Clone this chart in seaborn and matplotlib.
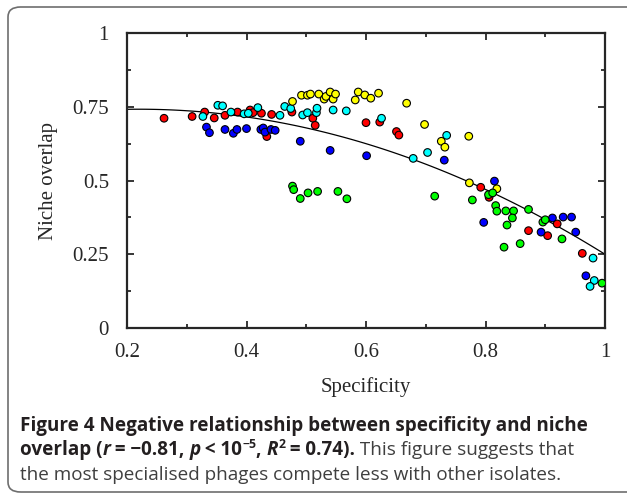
import numpy as np
import pandas as pd
import matplotlib
matplotlib.use("Agg")
import matplotlib.pyplot as plt
import seaborn as sns
from matplotlib.patches import FancyBboxPatch
from matplotlib.ticker import MultipleLocator, FuncFormatter

# Datos (especificidad, solapamiento de nicho) por grupo de color
red_x = [0.262, 0.309, 0.330, 0.346, 0.364, 0.385, 0.406, 0.411, 0.425, 0.434, 0.442, 0.476,
         0.511, 0.515, 0.600, 0.623, 0.651, 0.655, 0.792, 0.806, 0.872, 0.904, 0.920, 0.962]
red_y = [0.711, 0.717, 0.732, 0.712, 0.721, 0.732, 0.739, 0.730, 0.728, 0.649, 0.724, 0.732,
         0.711, 0.687, 0.696, 0.698, 0.666, 0.654, 0.477, 0.443, 0.330, 0.313, 0.353, 0.253]

cyan_x = [0.327, 0.352, 0.360, 0.374, 0.396, 0.403, 0.419, 0.456, 0.464, 0.474, 0.494, 0.502,
          0.517, 0.518, 0.545, 0.567, 0.626, 0.679, 0.703, 0.735, 0.980, 0.982, 0.975]
cyan_y = [0.717, 0.755, 0.753, 0.732, 0.726, 0.728, 0.747, 0.721, 0.751, 0.744, 0.722, 0.730,
          0.730, 0.745, 0.739, 0.736, 0.711, 0.575, 0.595, 0.653, 0.237, 0.161, 0.141]

blue_x = [0.333, 0.338, 0.364, 0.378, 0.384, 0.400, 0.424, 0.428, 0.431, 0.441, 0.448, 0.490,
          0.540, 0.601, 0.731, 0.815, 0.797, 0.893, 0.912, 0.930, 0.944, 0.951, 0.968]
blue_y = [0.681, 0.662, 0.673, 0.660, 0.673, 0.676, 0.673, 0.678, 0.664, 0.673, 0.670, 0.633,
          0.602, 0.584, 0.569, 0.498, 0.358, 0.325, 0.373, 0.376, 0.376, 0.325, 0.177]

yellow_x = [0.477, 0.492, 0.502, 0.507, 0.521, 0.530, 0.533, 0.540, 0.545, 0.549, 0.582,
            0.587, 0.598, 0.608, 0.621, 0.668, 0.698, 0.726, 0.732, 0.772, 0.773, 0.819]
yellow_y = [0.768, 0.789, 0.789, 0.793, 0.793, 0.776, 0.785, 0.800, 0.776, 0.793, 0.773,
            0.800, 0.790, 0.779, 0.796, 0.762, 0.690, 0.633, 0.613, 0.650, 0.492, 0.472]

green_x = [0.477, 0.479, 0.490, 0.503, 0.519, 0.553, 0.568, 0.715, 0.778, 0.805, 0.812, 0.817,
           0.819, 0.834, 0.847, 0.845, 0.836, 0.831, 0.858, 0.872, 0.896, 0.900, 0.928, 0.995]
green_y = [0.481, 0.469, 0.439, 0.458, 0.463, 0.463, 0.438, 0.447, 0.434, 0.452, 0.458, 0.415,
           0.396, 0.397, 0.397, 0.373, 0.349, 0.274, 0.286, 0.402, 0.359, 0.367, 0.302, 0.152]

# Puntos leidos sobre la curva de tendencia del original
curva_x = [0.200, 0.239, 0.439, 0.490, 0.523, 0.679, 0.757, 0.773, 0.824, 0.998]
curva_y = [0.745, 0.739, 0.698, 0.681, 0.670, 0.575, 0.509, 0.492, 0.449, 0.251]

x_ticks = [0.2, 0.4, 0.6, 0.8, 1.0]
y_ticks = [0, 0.25, 0.5, 0.75, 1.0]

grupos = {'red': (red_x, red_y), 'blue': (blue_x, blue_y), 'cyan': (cyan_x, cyan_y),
          'yellow': (yellow_x, yellow_y), 'green': (green_x, green_y)}
data = pd.concat([pd.DataFrame({'especificidad': gx, 'solapamiento': gy, 'grupo': g})
                  for g, (gx, gy) in grupos.items()], ignore_index=True)
curva = pd.DataFrame({'especificidad': curva_x, 'solapamiento': curva_y})

paleta = {'red': '#ff0000', 'blue': '#0000ff', 'cyan': '#00ffff',
          'yellow': '#ffff00', 'green': '#00ff00'}

sns.set_style("ticks")
plt.rcParams['font.family'] = ['Liberation Serif', 'DejaVu Serif']

W, H = 627, 499
fig = plt.figure(figsize=(W / 100, H / 100), dpi=100)
ax = fig.add_axes([127 / W, 1 - 328 / H, 478 / W, 295 / H])
ax.set_xlim(0.2, 1.0)
ax.set_ylim(0, 1.0)

sns.regplot(data=curva, x='especificidad', y='solapamiento', order=2, ci=None,
            scatter=False, truncate=False, ax=ax,
            line_kws={'color': 'black', 'linewidth': 0.9})

sns.scatterplot(data=data, x='especificidad', y='solapamiento', hue='grupo',
                palette=paleta, s=30, edgecolor='black', linewidth=0.8,
                legend=False, ax=ax, zorder=3)

ax.set_xlim(0.2, 1.0)
ax.set_ylim(0, 1.0)
ax.set_xticks(x_ticks)
ax.set_yticks(y_ticks)
ax.xaxis.set_minor_locator(MultipleLocator(0.1))
ax.yaxis.set_minor_locator(MultipleLocator(0.125))
fmt = FuncFormatter(lambda v, p: '%g' % v)
ax.xaxis.set_major_formatter(fmt)
ax.yaxis.set_major_formatter(fmt)
ax.tick_params(which='both', direction='in', top=True, right=True, width=1.3, labelsize=15)
ax.tick_params(axis='y', which='major', length=5, pad=13)
ax.tick_params(axis='x', which='major', length=5, pad=11)
ax.tick_params(which='minor', length=3)
for sp in ax.spines.values():
    sp.set_linewidth(1.6)

ax.set_xlabel('Specificity', fontsize=15)
ax.set_ylabel('Niche overlap', fontsize=15)
ax.xaxis.set_label_coords(0.5, -0.165)
ax.yaxis.set_label_coords(-0.145, 0.5)

# Marco redondeado de la figura
marco = FancyBboxPatch((8 / W, 7 / H), 640 / W, 485 / H,
                       boxstyle='round,pad=0,rounding_size=0.02',
                       transform=fig.transFigure, fill=False,
                       edgecolor='#6e6e6e', linewidth=1.2, clip_on=False)
fig.patches.append(marco)

# Pie de figura con texto mixto
cap_font = ['Open Sans', 'DejaVu Sans']
oscuro = '#231f20'
gris = '#3f3f3f'
tam = 13.6
renderer = fig.canvas.get_renderer()


def linea(segmentos, x0, y0):
    x = x0
    for txt, peso, estilo, esc, dy, col in segmentos:
        kw = dict(fontsize=tam * esc, fontweight=peso, fontstyle=estilo,
                  family=cap_font, color=col)
        fig.text(x / W, 1 - (y0 - dy) / H, txt, ha='left', va='baseline', **kw)
        a = fig.text(0, 0, 'x' + txt + 'x', **kw)
        b = fig.text(0, 0, 'xx', **kw)
        x += a.get_window_extent(renderer).width - b.get_window_extent(renderer).width
        a.remove()
        b.remove()


linea([('Figure 4 Negative relationship between specificity and niche',
        'bold', 'normal', 1, 0, oscuro)], 20, 431)
linea([('overlap (', 'bold', 'normal', 1, 0, oscuro),
       ('r', 'bold', 'italic', 1, 0, oscuro),
       (' = \u22120.81, ', 'bold', 'normal', 1, 0, oscuro),
       ('p', 'bold', 'italic', 1, 0, oscuro),
       (' < 10', 'bold', 'normal', 1, 0, oscuro),
       ('\u22125', 'bold', 'normal', 0.65, 7, oscuro),
       (', ', 'bold', 'normal', 1, 0, oscuro),
       ('R', 'bold', 'italic', 1, 0, oscuro),
       ('2', 'bold', 'normal', 0.65, 7, oscuro),
       (' = 0.74).', 'bold', 'normal', 1, 0, oscuro),
       (' This figure suggests that', 'normal', 'normal', 1, 0, gris)], 20, 455)
linea([('the most specialised phages compete less with other isolates.',
        'normal', 'normal', 1, 0, gris)], 20, 480)

fig.savefig('out.png', dpi=100)
